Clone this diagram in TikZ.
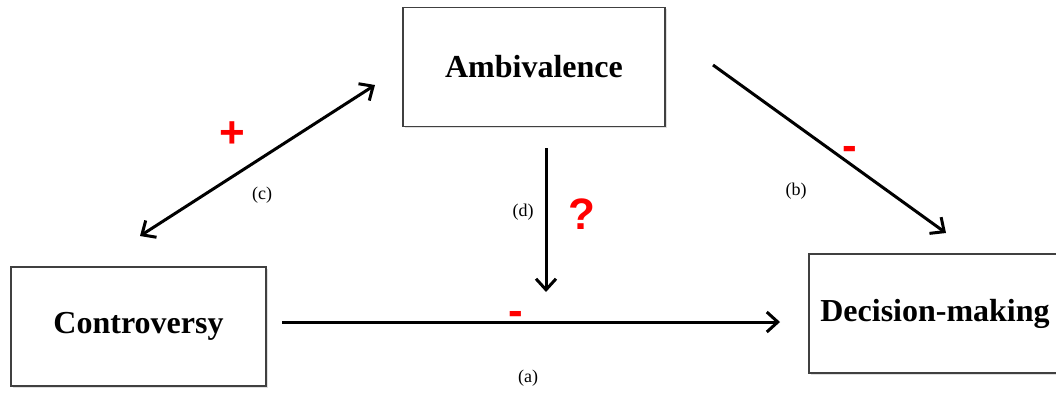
\documentclass[tikz,border=0pt]{standalone}
\usepackage{fontspec}
\setmainfont{Liberation Serif}
\newfontfamily\signfont{Liberation Sans}
\usepackage{xcolor}
\usepackage{tikz}
\usetikzlibrary{arrows.meta,positioning,shadows}

\begin{document}
\begin{tikzpicture}[x=1pt, y=-1pt,
    box/.style={rectangle, draw=black!75, line width=1.5pt, fill=white, minimum width=255pt, minimum height=119pt, align=center, font=\fontsize{32}{36}\selectfont\bfseries, drop shadow={opacity=0.25, shadow xshift=1.5pt, shadow yshift=-1.5pt}},
    arrow/.style={-{Straight Barb[length=11pt, width=20pt]}, line width=3pt},
    tag/.style={font=\fontsize{18}{20}\selectfont},
    sign/.style={text=red, font=\signfont\bfseries\fontsize{44}{48}\selectfont}
]
\useasboundingbox (0,0) rectangle (1056,392);

\node[box, minimum width=262pt] (amb) at (534,67) {Ambivalence};
\node[box] (contr) at (138.5,326.5) {Controversy};
\node[box, minimum width=252pt] (dec) at (935,313.5) {Decision-making};

\coordinate (c1) at (140,236);
\coordinate (c2) at (375,85);
\coordinate (d1) at (546,148);
\coordinate (d2) at (546,292);
\coordinate (b1) at (713,65);
\coordinate (b2) at (946,233);
\coordinate (a1) at (282,322);
\coordinate (a2) at (780,322);

\draw[arrow, {Straight Barb[length=11pt, width=20pt]}-{Straight Barb[length=11pt, width=20pt]}] (c1) -- (c2);
\draw[arrow] (d1) -- (d2);
\draw[arrow] (b1) -- (b2);
\draw[arrow] (a1) -- (a2);

\node[tag] (lc) at (262,195) {(c)};
\node[tag] (ld) at (523,212) {(d)};
\node[tag] (lb) at (796,191) {(b)};
\node[tag] (la) at (528,378) {(a)};

\node[sign] (sc) at (232,135) {+};
\node[sign] (sd) at (582,214) {?};
\node[sign] (sa) at (516,318) {-};
\node[sign] (sb) at (850,153) {-};
\end{tikzpicture}
\end{document}
